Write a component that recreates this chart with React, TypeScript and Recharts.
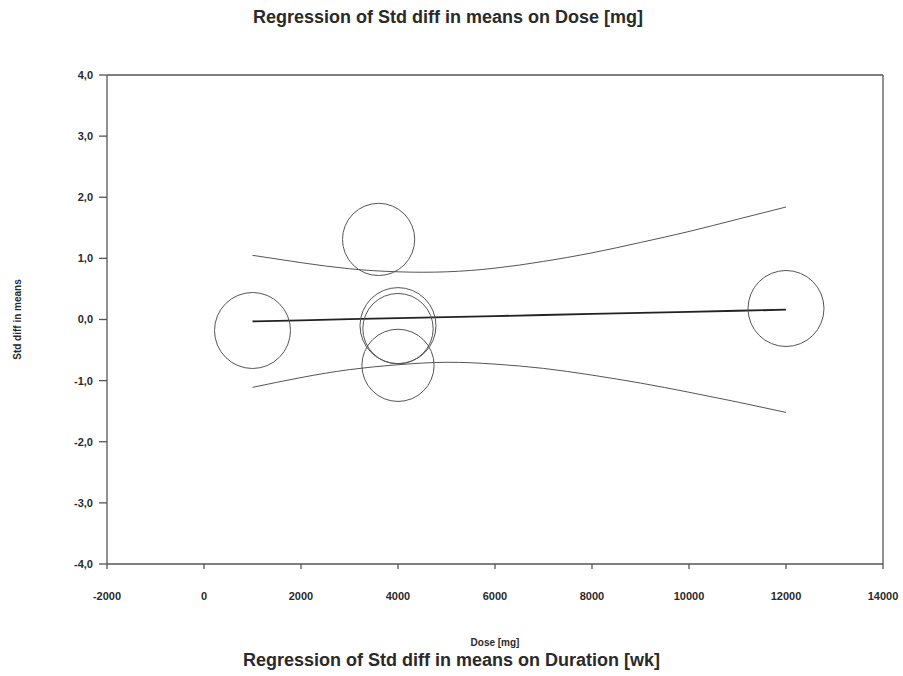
import React from "react";
import {
  ComposedChart,
  Line,
  Scatter,
  XAxis,
  YAxis,
  ZAxis,
  ReferenceLine,
  Label,
} from "recharts";

// Study bubbles (dose, effect, weight)
const studyDose = [1000, 3600, 4000, 4000, 4000, 12000];
const studyEffect = [-0.18, 1.31, -0.1, -0.15, -0.75, 0.18];
const studyWeight = [17.5, 15.8, 17.5, 15.0, 15.8, 17.5];

// Regression line and confidence band
const gridDose = [1000, 2000, 3000, 4000, 5000, 6000, 7000, 8000, 9000, 10000, 11000, 12000];
const fitValues = [-0.03, -0.013, 0.005, 0.022, 0.039, 0.056, 0.074, 0.091, 0.108, 0.125, 0.143, 0.16];
const upperValues = [1.05, 0.93, 0.83, 0.78, 0.78, 0.84, 0.95, 1.09, 1.26, 1.44, 1.64, 1.84];
const lowerValues = [-1.11, -0.95, -0.82, -0.74, -0.7, -0.73, -0.8, -0.91, -1.04, -1.19, -1.35, -1.52];

const xTicks = [-2000, 0, 2000, 4000, 6000, 8000, 10000, 12000, 14000];
const yTicks = [-4, -3, -2, -1, 0, 1, 2, 3, 4];

const title = "Regression of Std diff in means on Dose [mg]";
const bottomTitle = "Regression of Std diff in means on Duration [wk]";
const xLabel = "Dose [mg]";
const yLabel = "Std diff in means";

const curveRows = gridDose.map((d, i) => ({
  dose: d,
  fit: fitValues[i],
  upper: upperValues[i],
  lower: lowerValues[i],
}));

const bubbleRows = studyDose.map((d, i) => ({
  dose: d,
  effect: studyEffect[i],
  weight: studyWeight[i],
}));

const FONT = "'Liberation Sans', Arial, Helvetica, sans-serif";
const AXIS = "#555";
const TEXT = "#2a2a2a";

const tickStyle = { fontSize: 11, fontWeight: 700, fill: TEXT, fontFamily: FONT };

const BubbleShape = (props: any) => {
  const { cx, cy, size } = props;
  const r = Math.sqrt((size || 0) / Math.PI);
  return <circle cx={cx} cy={cy} r={r} fill="none" stroke="#555" strokeWidth={1} />;
};

export default function App() {
  return (
    <div
      style={{
        position: "absolute",
        left: 0,
        top: 0,
        width: 903,
        height: 676,
        background: "#fff",
        fontFamily: FONT,
      }}
    >
      <div
        style={{
          position: "absolute",
          left: 0,
          top: 6,
          width: 896,
          textAlign: "center",
          fontSize: 18,
          fontWeight: 700,
          color: TEXT,
          lineHeight: "22px",
        }}
      >
        {title}
      </div>
      <ComposedChart
        width={903}
        height={676}
        data={curveRows}
        margin={{ top: 75, right: 20, bottom: 0, left: 0 }}
      >
        <XAxis
          type="number"
          dataKey="dose"
          domain={[-2000, 14000]}
          ticks={xTicks}
          interval={0}
          height={112}
          tickSize={5}
          tickMargin={23}
          tick={tickStyle}
          axisLine={{ stroke: AXIS, strokeWidth: 1.3 }}
          tickLine={{ stroke: AXIS, strokeWidth: 1.3 }}
        >
          <Label
            value={xLabel}
            position="insideBottom"
            offset={30}
            style={{ fontSize: 10, fontWeight: 700, fill: TEXT, fontFamily: FONT }}
          />
        </XAxis>
        <YAxis
          type="number"
          dataKey="effect"
          domain={[-4, 4]}
          ticks={yTicks}
          interval={0}
          width={107}
          tickSize={8}
          tickMargin={6}
          tick={tickStyle}
          tickFormatter={(v: number) => v.toFixed(1).replace(".", ",")}
          axisLine={{ stroke: AXIS, strokeWidth: 1.3 }}
          tickLine={{ stroke: AXIS, strokeWidth: 1.3 }}
        >
          <Label
            value={yLabel}
            angle={-90}
            position="insideLeft"
            offset={17}
            style={{ fontSize: 10, fontWeight: 700, fill: TEXT, fontFamily: FONT, textAnchor: "middle" }}
          />
        </YAxis>
        <ZAxis type="number" dataKey="weight" domain={[0, 20]} range={[0, 5184]} />
        <ReferenceLine y={4} stroke={AXIS} strokeWidth={1.3} />
        <ReferenceLine x={14000} stroke={AXIS} strokeWidth={1.3} />
        <Line
          type="natural"
          dataKey="upper"
          stroke="#555"
          strokeWidth={1}
          dot={false}
          isAnimationActive={false}
        />
        <Line
          type="natural"
          dataKey="lower"
          stroke="#555"
          strokeWidth={1}
          dot={false}
          isAnimationActive={false}
        />
        <Line
          type="linear"
          dataKey="fit"
          stroke="#222"
          strokeWidth={1.8}
          dot={false}
          isAnimationActive={false}
        />
        <Scatter data={bubbleRows} shape={BubbleShape} isAnimationActive={false} />
      </ComposedChart>
      <div
        style={{
          position: "absolute",
          left: 0,
          top: 649,
          width: 903,
          textAlign: "center",
          fontSize: 18,
          fontWeight: 700,
          color: TEXT,
          lineHeight: "22px",
        }}
      >
        {bottomTitle}
      </div>
    </div>
  );
}
